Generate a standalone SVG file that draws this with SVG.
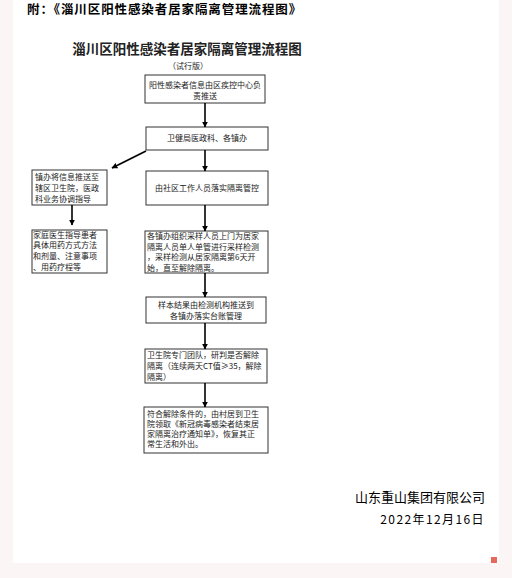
<svg xmlns="http://www.w3.org/2000/svg" width="512" height="578" viewBox="0 0 512 578">
<defs>
<marker id="ah" viewBox="0 0 10 10" refX="9" refY="5" markerWidth="6" markerHeight="6" orient="auto" markerUnits="userSpaceOnUse">
<path d="M0,0 L10,5 L0,10 z" fill="#000"/>
</marker>
<style>
.box{fill:#fff;stroke:#333;stroke-width:1}
.t{font-family:"Noto Sans CJK SC","Liberation Serif",serif;font-size:8px;fill:#222}
.c{text-anchor:middle}
.conn line{stroke:#000;stroke-width:1.6;marker-end:url(#ah)}
</style>
</defs>
<rect width="512" height="578" fill="#fcf5f5"/>
<rect x="13" y="0" width="486" height="563" fill="#fff"/>
<rect x="491" y="557" width="6" height="6" fill="#e8695a"/>
<text x="27" y="14" font-family="Noto Sans CJK SC,sans-serif" font-size="12.5" font-weight="bold" letter-spacing="0.9" fill="#000">附：《淄川区阳性感染者居家隔离管理流程图》</text>
<text x="187" y="54" font-family="Noto Sans CJK SC,serif" font-size="13.5" font-weight="bold" text-anchor="middle" fill="#222">淄川区阳性感染者居家隔离管理流程图</text>
<text x="188" y="69" class="t c" font-size="7">（试行版）</text>
<g id="n1"><rect class="box" x="145" y="75" width="120" height="28"/>
<text class="t c" x="205" y="88">阳性感染者信息由区疾控中心负</text>
<text class="t c" x="205" y="99">责推送</text></g>
<g id="n2"><rect class="box" x="146" y="127" width="122" height="23"/>
<text class="t c" x="207" y="141">卫健局医政科、各镇办</text></g>
<g id="n3"><rect class="box" x="32" y="170" width="75" height="35"/>
<text class="t" x="35" y="180">镇办将信息推送至</text>
<text class="t" x="35" y="191">辖区卫生院，医政</text>
<text class="t" x="35" y="202">科业务协调指导</text></g>
<g id="n4"><rect class="box" x="146" y="171" width="122" height="34"/>
<text class="t c" x="207" y="191">由社区工作人员落实隔离管控</text></g>
<g id="n5"><rect class="box" x="32" y="230" width="75" height="43"/>
<text class="t" x="33" y="238">家庭医生指导患者</text>
<text class="t" x="33" y="248">具体用药方式方法</text>
<text class="t" x="33" y="259">和剂量、注意事项</text>
<text class="t" x="33" y="270">、用药疗程等</text></g>
<g id="n6"><rect class="box" x="145" y="231" width="123" height="42"/>
<text class="t" x="147" y="239">各镇办组织采样人员上门为居家</text>
<text class="t" x="147" y="250">隔离人员单人单管进行采样检测</text>
<text class="t" x="147" y="260">，采样检测从居家隔离第6天开</text>
<text class="t" x="147" y="271">始，直至解除隔离。</text></g>
<g id="n7"><rect class="box" x="146" y="297" width="120" height="26"/>
<text class="t c" x="206" y="308">样本结果由检测机构推送到</text>
<text class="t c" x="206" y="319">各镇办落实台账管理</text></g>
<g id="n8"><rect class="box" x="145" y="349" width="122" height="34"/>
<text class="t" x="147" y="358">卫生院专门团队，研判是否解除</text>
<text class="t" x="147" y="369">隔离（连续两天CT值≥35，解除</text>
<text class="t" x="147" y="380">隔离）</text></g>
<g id="n9"><rect class="box" x="144" y="407" width="124" height="46"/>
<text class="t" x="147" y="417">符合解除条件的，由村居到卫生</text>
<text class="t" x="147" y="427">院领取《新冠病毒感染者结束居</text>
<text class="t" x="147" y="437">家隔离治疗通知单》，恢复其正</text>
<text class="t" x="147" y="447">常生活和外出。</text></g>
<g class="conn" id="connectors">
<line x1="205" y1="103" x2="205" y2="127"/>
<line x1="146" y1="151" x2="112" y2="168"/>
<line x1="205" y1="150" x2="205" y2="171"/>
<line x1="72" y1="205" x2="72" y2="225"/>
<line x1="205" y1="205" x2="205" y2="231"/>
<line x1="205" y1="273" x2="205" y2="297"/>
<line x1="205" y1="323" x2="205" y2="349"/>
<line x1="205" y1="383" x2="205" y2="407"/>
</g>
<text x="485" y="502" font-family="Noto Sans CJK SC,sans-serif" font-size="13" text-anchor="end" fill="#000">山东重山集团有限公司</text>
<text x="485" y="524" font-family="Noto Sans CJK SC,sans-serif" font-size="12" letter-spacing="1.4" text-anchor="end" fill="#000">2022年12月16日</text>
</svg>
